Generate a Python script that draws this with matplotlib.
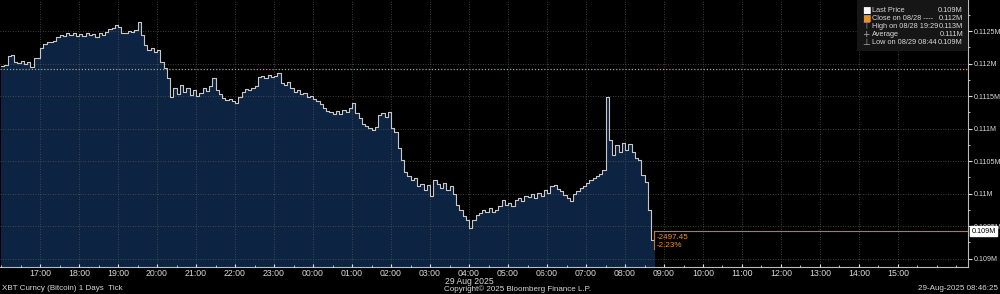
import numpy as np
import matplotlib.pyplot as plt
from matplotlib.patches import Rectangle
from matplotlib.ticker import FixedLocator, MultipleLocator, FuncFormatter
import matplotlib.transforms as mtransforms

# XBT Curncy, 5 minute samples starting 2025-08-28 16:00
prices = [
    111962, 111977, 112115, 112131, 112023, 112008, 112038, 111992, 112023, 111946, 112085, 112085,  # 16:00
    112238, 112300, 112331, 112331, 112346, 112408, 112438, 112423, 112469, 112438, 112469, 112423,  # 17:00
    112454, 112423, 112469, 112438, 112454, 112408, 112469, 112438, 112485, 112531, 112546, 112592,  # 18:00
    112562, 112469, 112469, 112500, 112485, 112515, 112638, 112438, 112285, 112208, 112238, 112177,  # 19:00
    112208, 112023, 111931, 111777, 111485, 111623, 111531, 111669, 111562, 111623, 111515, 111592,  # 20:00
    111500, 111546, 111623, 111577, 111654, 111777, 111592, 111531, 111469, 111438, 111454, 111423,  # 21:00
    111392, 111485, 111562, 111608, 111592, 111623, 111654, 111792, 111808, 111777, 111823, 111792,  # 22:00
    111808, 111854, 111700, 111669, 111715, 111623, 111562, 111592, 111531, 111546, 111485, 111500,  # 23:00
    111454, 111423, 111377, 111315, 111269, 111254, 111223, 111269, 111223, 111285, 111254, 111315,  # 00:00
    111392, 111238, 111162, 111069, 111038, 111008, 110977, 111023, 111208, 111238, 111177, 111254,  # 01:00
    111008, 110946, 110700, 110515, 110331, 110269, 110208, 110238, 110115, 110146, 110054, 110131,  # 02:00
    109962, 110208, 110146, 110085, 110162, 110054, 110115, 109992, 109823, 109746, 109654, 109592,  # 03:00
    109469, 109592, 109669, 109700, 109746, 109715, 109777, 109715, 109746, 109808, 109900, 109823,  # 04:00
    109854, 109808, 109900, 109931, 109885, 109962, 109946, 109992, 109931, 110008, 109962, 110054,  # 05:00
    110008, 110115, 110131, 110069, 110038, 109977, 109931, 109885, 109992, 110038, 110085, 110115,  # 06:00
    110162, 110208, 110238, 110269, 110300, 110362, 111485, 110823, 110592, 110746, 110638, 110777,  # 07:00
    110669, 110762, 110638, 110546, 110515, 110285, 110177, 109746, 109285, 109423,                  # 08:00
]
close_prev = 111920
last_price = 109422.55
change_abs = "-2497.45"
change_pct = "-2.23%"
hour_labels = ["17:00", "18:00", "19:00", "20:00", "21:00", "22:00", "23:00", "00:00", "01:00",
               "02:00", "03:00", "04:00", "05:00", "06:00", "07:00", "08:00", "09:00", "10:00",
               "11:00", "12:00", "13:00", "14:00", "15:00"]
y_ticks = [109000, 109500, 110000, 110500, 111000, 111500, 112000, 112500]
legend_rows = [("Last Price", "0.109M"), ("Close on 08/28 ----", "0.112M"),
               ("High on 08/28 19:29", "0.113M"), ("Average", "0.111M"),
               ("Low on 08/29 08:44", "0.109M")]

plt.rcParams['font.family'] = ['Liberation Sans', 'DejaVu Sans']

# hours since 2025-08-28 00:00
t = 16 + np.arange(len(prices)) * 5 / 60
t_step = np.append(t, t[-1] + 1 / 60)
p_step = np.append(prices, last_price)
p_step[-2] = last_price

bg = '#000000'
navy = '#0c2342'
txt = '#d8d8d8'
orange = '#e8912d'

fig = plt.figure(figsize=(10, 2.94), dpi=100, facecolor=bg)
ax = fig.add_axes([0, 0.0935, 0.968, 0.9065], facecolor=bg)

ymin, ymax = 108877, 112977
ax.fill_between(t_step, p_step, ymin, step='post', color=navy, lw=0, zorder=1)
ax.step(t_step, p_step, where='post', color='#c8c8c8', lw=0.8, zorder=3)

ax.set_xlim(15.974, 40.795)
ax.set_ylim(ymin, ymax)

# close line and last price marker
ax.axhline(close_prev, color=orange, ls=(0, (1, 1.5)), lw=0.9, zorder=4)
ax.plot([t[-1], 40.795], [last_price, last_price], color='#b87a3a', lw=0.8, zorder=4)
ax.plot([t[-1], t[-1]], [last_price, last_price - 280], color='#b87a3a', lw=0.8, zorder=4)
ax.text(t[-1] + 0.07, last_price - 40, change_abs, color=orange, fontsize=5.8, va='top', zorder=5)
ax.text(t[-1] + 0.07, last_price - 165, change_pct, color=orange, fontsize=5.8, va='top', zorder=5)

# axes styling
ax.grid(True, color='#555555', ls=(0, (1, 2)), lw=0.6, zorder=2)
ax.set_axisbelow(False)
for s in ['top', 'left']:
    ax.spines[s].set_visible(False)
for s in ['bottom', 'right']:
    ax.spines[s].set_color('#bbbbbb')
    ax.spines[s].set_linewidth(0.8)

ax.xaxis.set_major_locator(FixedLocator(np.arange(17, 17 + len(hour_labels))))
ax.set_xticklabels(hour_labels)
ax.xaxis.set_minor_locator(MultipleLocator(0.5))
ax.tick_params(axis='x', which='major', direction='in', length=2.5, color='#dddddd',
               labelsize=6.3, labelcolor=txt, pad=2)
ax.tick_params(axis='x', which='minor', direction='in', length=1.5, color='#dddddd')

ax.yaxis.tick_right()
ax.yaxis.set_major_locator(FixedLocator(y_ticks))
ax.yaxis.set_minor_locator(MultipleLocator(250))
ax.yaxis.set_major_formatter(FuncFormatter(lambda v, _: f"{v / 1e6:g}M"))
ax.tick_params(axis='y', which='major', direction='out', length=3, color='#dddddd',
               labelsize=5.1, labelcolor=txt, pad=0.8)
ax.tick_params(axis='y', which='minor', direction='out', length=1.5, color='#dddddd')

# last price flag on the right axis (covers the 0.1095M label like the terminal does)
trans = mtransforms.blended_transform_factory(ax.transAxes, ax.transData)
ax.text(1.0035, last_price, "0.109M", transform=trans, fontsize=5.2, color='black',
        va='center', ha='left', clip_on=False, zorder=10,
        bbox=dict(boxstyle='square,pad=0.2', fc='white', ec='white'))

# legend box
fig.patches.append(Rectangle((0.857, 1 - 51 / 294), 0.111, 51 / 294, transform=fig.transFigure,
                             facecolor='#161616', edgecolor='none', zorder=5))
row_y = [10, 18.3, 26.5, 34.5, 42.7]
icons = [('■', 'white'), ('■', orange), ('⊤', '#aaaaaa'), ('+', '#aaaaaa'), ('⊥', '#aaaaaa')]
for (label, val), yy, (ic, col) in zip(legend_rows, row_y, icons):
    fy = 1 - yy / 294
    fig.text(0.866, fy, ic, color=col, fontsize=6.5, ha='center', va='center', zorder=6,
             family='DejaVu Sans')
    fig.text(0.872, fy, label, color=txt, fontsize=5.3, ha='left', va='center', zorder=6)
    fig.text(0.963, fy, val, color=txt, fontsize=5.3, ha='right', va='center', zorder=6)

# footer text
fig.text(0.469, 1 - 281 / 294, "29 Aug 2025", color=txt, fontsize=6.2, ha='center', va='center')
fig.text(0.002, 1 - 289 / 294, "XBT Curncy (Bitcoin) 1 Days  Tick", color=txt, fontsize=5.8,
         ha='left', va='center')
fig.text(0.518, 1 - 289 / 294, "Copyright© 2025 Bloomberg Finance L.P.", color=txt, fontsize=5.8,
         ha='center', va='center')
fig.text(0.998, 1 - 289 / 294, "29-Aug-2025 08:46:25", color=txt, fontsize=5.8,
         ha='right', va='center')

fig.savefig('out.png', dpi=100, facecolor=bg)
